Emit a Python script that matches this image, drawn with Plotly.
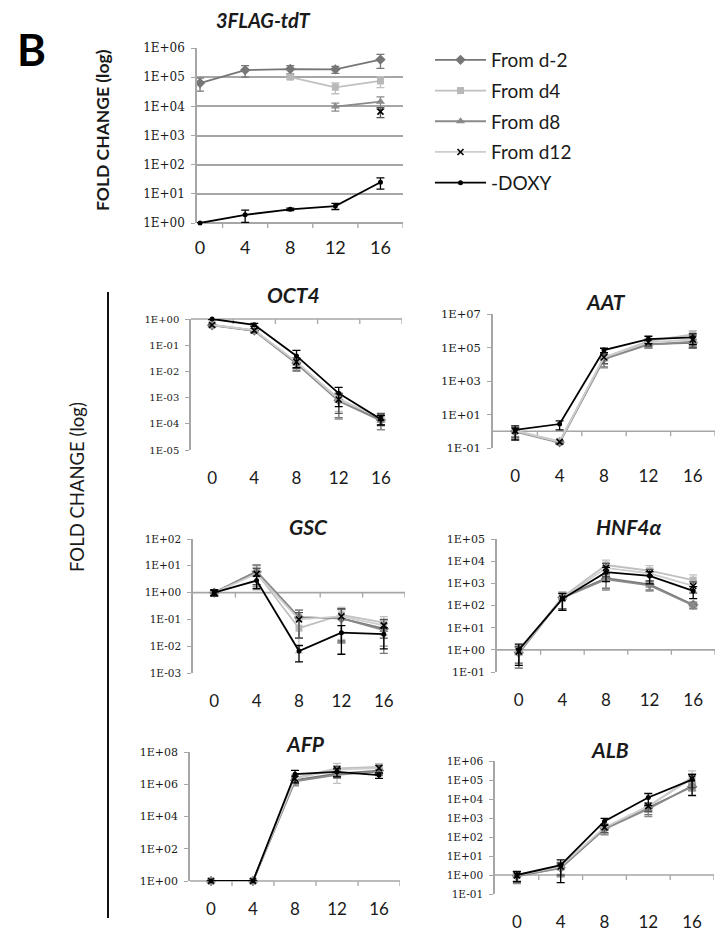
import plotly.graph_objects as go

W, H = 717, 935
DAYS = [0, 4, 8, 12, 16]
SERIES = ["From d-2", "From d4", "From d8", "From d12", "-DOXY"]

# ---------------- data ----------------
TDT_VAL = {
    "From d-2": [6.3e4, 1.75e5, 1.9e5, 1.85e5, 4.0e5],
    "From d4": [None, None, 1.0e5, 4.5e4, 7.4e4],
    "From d8": [None, None, None, 9.8e3, 1.45e4],
    "From d12": [None, None, None, None, 6.6e3],
    "-DOXY": [1.0, 1.9, 2.95, 3.8, 25],
}
TDT_SD = {
    "From d-2": [3.0e4, 7.5e4, 6.0e4, 5.0e4, 2.0e5],
    "From d4": [0, 0, 1.5e4, 1.8e4, 3.0e4],
    "From d8": [0, 0, 0, 3.0e3, 6.5e3],
    "From d12": [0, 0, 0, 0, 2.5e3],
    "-DOXY": [0.02, 0.85, 0.3, 0.9, 10.5],
}
OCT4_VAL = {
    "From d-2": [0.58, 0.36, 0.021, 8.0e-4, 1.4e-4],
    "From d4": [0.60, 0.38, 0.022, 9.0e-4, 1.6e-4],
    "From d8": [0.57, 0.35, 0.020, 7.5e-4, 1.3e-4],
    "From d12": [0.59, 0.37, 0.023, 8.5e-4, 1.7e-4],
    "-DOXY": [1.0, 0.60, 0.039, 1.45e-3, 1.5e-4],
}
OCT4_SD = {
    "From d-2": [0.05, 0.06, 0.010, 6.3e-4, 8e-5],
    "From d4": [0.05, 0.06, 0.010, 6.0e-4, 8e-5],
    "From d8": [0.05, 0.06, 0.010, 6.0e-4, 7e-5],
    "From d12": [0.05, 0.06, 0.010, 6.0e-4, 8e-5],
    "-DOXY": [0.05, 0.08, 0.025, 1.0e-3, 6e-5],
}
AAT_VAL = {
    "From d-2": [1.0, 0.22, 2.3e4, 1.6e5, 1.9e5],
    "From d4": [1.1, 0.25, 2.5e4, 2.4e5, 6.0e5],
    "From d8": [0.95, 0.21, 2.0e4, 1.5e5, 2.2e5],
    "From d12": [1.05, 0.23, 2.6e4, 2.0e5, 3.0e5],
    "-DOXY": [1.2, 2.7, 7.0e4, 3.2e5, 4.0e5],
}
AAT_SD = {
    "From d-2": [0.6, 0.04, 1.6e4, 6.0e4, 1.0e5],
    "From d4": [0.6, 0.04, 1.5e4, 1.0e5, 4.0e5],
    "From d8": [0.6, 0.04, 1.4e4, 6.0e4, 1.0e5],
    "From d12": [0.6, 0.04, 1.5e4, 8.0e4, 2.0e5],
    "-DOXY": [0.9, 1.5, 2.0e4, 1.5e5, 2.5e5],
}
GSC_VAL = {
    "From d-2": [1.0, 6.0, 0.12, 0.11, 0.045],
    "From d4": [1.0, 5.5, 0.047, 0.148, 0.076],
    "From d8": [1.0, 6.2, 0.12, 0.11, 0.040],
    "From d12": [1.0, 5.0, 0.10, 0.13, 0.060],
    "-DOXY": [1.0, 2.8, 6.6e-3, 0.032, 0.028],
}
GSC_SD = {
    "From d-2": [0.25, 4.7, 0.10, 0.13, 0.05],
    "From d4": [0.25, 3.5, 0.05, 0.13, 0.05],
    "From d8": [0.25, 4.5, 0.10, 0.12, 0.03],
    "From d12": [0.25, 3.0, 0.08, 0.12, 0.04],
    "-DOXY": [0.25, 1.35, 4.0e-3, 0.027, 0.02],
}
HNF4A_VAL = {
    "From d-2": [0.75, 230, 1.7e3, 900, 107],
    "From d4": [0.80, 240, 6.7e3, 3.7e3, 1.4e3],
    "From d8": [0.70, 220, 1.5e3, 800, 100],
    "From d12": [0.85, 210, 5.0e3, 2.8e3, 760],
    "-DOXY": [1.0, 200, 3.2e3, 2.15e3, 455],
}
HNF4A_SD = {
    "From d-2": [0.6, 170, 1.1e3, 400, 35],
    "From d4": [0.6, 170, 4.5e3, 2.6e3, 1.0e3],
    "From d8": [0.55, 150, 1.0e3, 350, 30],
    "From d12": [0.6, 140, 3.0e3, 1.5e3, 400],
    "-DOXY": [0.8, 140, 2.0e3, 1.2e3, 250],
}
AFP_VAL = {
    "From d-2": [1, 1, 1.8e6, 4.5e6, 7.0e6],
    "From d4": [1, 1, 2.5e6, 9.5e6, 1.2e7],
    "From d8": [1, 1, 1.5e6, 3.8e6, 6.0e6],
    "From d12": [1, 1, 2.2e6, 8.0e6, 1.0e7],
    "-DOXY": [1, 1, 4.2e6, 5.9e6, 3.7e6],
}
AFP_SD = {
    "From d-2": [0, 0, 9.0e5, 2.0e6, 3.0e6],
    "From d4": [0, 0, 1.2e6, 1.0e7, 6.0e6],
    "From d8": [0, 0, 7.0e5, 1.5e6, 2.5e6],
    "From d12": [0, 0, 1.0e6, 5.0e6, 5.0e6],
    "-DOXY": [0, 0, 3.0e6, 3.0e6, 1.4e6],
}
ALB_VAL = {
    "From d-2": [0.90, 2.4, 280, 3.4e3, 4.4e4],
    "From d4": [1.0, 2.6, 300, 4.0e3, 1.4e5],
    "From d8": [0.85, 2.3, 260, 3.0e3, 5.0e4],
    "From d12": [0.95, 2.8, 320, 4.2e3, 1.2e5],
    "-DOXY": [1.0, 3.3, 680, 1.2e4, 1.05e5],
}
ALB_SD = {
    "From d-2": [0.5, 1.5, 140, 1.9e3, 1.7e4],
    "From d4": [0.5, 1.5, 150, 2.0e3, 1.6e5],
    "From d8": [0.5, 1.5, 130, 1.8e3, 2.0e4],
    "From d12": [0.5, 1.8, 150, 2.0e3, 8.0e4],
    "-DOXY": [0.55, 2.9, 275, 7.5e3, 9.0e4],
}

STYLE = {
    "From d-2": dict(color="#767676", symbol="diamond", size=8, mcolor="#767676"),
    "From d4": dict(color="#c0c0c0", symbol="square", size=7, mcolor="#b8b8b8"),
    "From d8": dict(color="#8a8a8a", symbol="triangle-up", size=8, mcolor="#8a8a8a"),
    "From d12": dict(color="#cdcdcd", symbol="x-thin", size=6, mcolor="#000000"),
    "-DOXY": dict(color="#000000", symbol="circle", size=5, mcolor="#000000"),
}

# panel geometry in pixels: x-left, x-right, y-top, y-bottom, log range, tick step
PANELS = [
    dict(title="3FLAG-tdT", val=TDT_VAL, sd=TDT_SD, px=(197, 403), py=(48, 223), lr=(0, 6),
         step=1, xr=(-0.27, 18), tfs=12, grid=True, tc=(263, 20), xfs=18, legend=True),
    dict(title="OCT4", val=OCT4_VAL, sd=OCT4_SD, px=(191, 402), py=(319, 450), lr=(-5, 0),
         step=1, xr=(-2, 18), tfs=10, grid=False, tc=(293, 295), xfs=17, legend=False),
    dict(title="AAT", val=AAT_VAL, sd=AAT_SD, px=(493, 715), py=(314, 448), lr=(-1, 7),
         step=2, xr=(-2, 18), tfs=11.5, grid=False, tc=(606, 301), xfs=17, legend=False),
    dict(title="GSC", val=GSC_VAL, sd=GSC_SD, px=(193, 405), py=(539, 673), lr=(-3, 2),
         step=1, xr=(-2, 18), tfs=10.5, grid=False, tc=(308, 526), xfs=17, legend=False),
    dict(title="HNF4α", val=HNF4A_VAL, sd=HNF4A_SD, px=(497, 715), py=(539, 672), lr=(-1, 5),
         step=1, xr=(-2, 18), tfs=11, grid=False, tc=(628, 526), xfs=17, legend=False),
    dict(title="AFP", val=AFP_VAL, sd=AFP_SD, px=(190, 400), py=(752, 881), lr=(0, 8),
         step=2, xr=(-2, 18), tfs=11, grid=False, tc=(305, 743), xfs=17, legend=False),
    dict(title="ALB", val=ALB_VAL, sd=ALB_SD, px=(495, 714), py=(761, 894), lr=(-1, 6),
         step=1, xr=(-2, 18), tfs=10.5, grid=False, tc=(610, 749), xfs=17, legend=False),
]
TICK_POS = [2, 6, 10, 14, 18]

AXIS_GRAY = "#a6a6a6"
TEXT = "#1a1a1a"


def fmt_exp(e):
    return "1E%s%02d" % ("+" if e >= 0 else "-", abs(e))


fig = go.Figure()
layout = dict(
    width=W, height=H, margin=dict(l=0, r=0, t=0, b=0, pad=0, autoexpand=False),
    paper_bgcolor="white", plot_bgcolor="rgba(0,0,0,0)",
    showlegend=True,
    legend=dict(x=430 / W, y=1 - 41 / H, xanchor="left", yanchor="top",
                font=dict(family="Lato", size=19, color=TEXT),
                itemwidth=51, tracegroupgap=3, bgcolor="rgba(0,0,0,0)"),
)
annotations = []
shapes = []

for i, p in enumerate(PANELS):
    k = i + 1
    xs = "" if k == 1 else str(k)
    xd = [p["px"][0] / W, p["px"][1] / W]
    yd = [1 - p["py"][1] / H, 1 - p["py"][0] / H]
    lo, hi = p["lr"]
    tv = [10.0 ** e for e in range(lo, hi + 1, p["step"])]
    tt = [fmt_exp(e) for e in range(lo, hi + 1, p["step"])]
    layout["xaxis" + xs] = dict(
        domain=xd, range=list(p["xr"]), anchor="y" + xs, showline=False, showgrid=False,
        zeroline=False, ticks="", tickvals=DAYS, ticktext=[str(d) for d in DAYS],
        ticklabelstandoff=16 if k > 1 else 12, automargin=False,
        tickfont=dict(family="Lato", size=p["xfs"], color=TEXT), fixedrange=True)
    layout["yaxis" + xs] = dict(
        domain=yd, type="log", range=[lo, hi], anchor="x" + xs, showline=True,
        linecolor=AXIS_GRAY, linewidth=1.5, ticks="outside", ticklen=4, tickcolor=AXIS_GRAY,
        tickwidth=1.2, tickvals=tv, ticktext=tt, showgrid=p["grid"], gridcolor=AXIS_GRAY,
        gridwidth=2, zeroline=False, ticklabelstandoff=4, automargin=False,
        tickfont=dict(family="DejaVu Serif", size=p["tfs"], color=TEXT), fixedrange=True)
    # horizontal axis crossing at 1E+00, expressed in the y axis' domain fraction
    frac = (0 - lo) / (hi - lo)
    shapes.append(dict(type="line", xref="x" + xs + " domain", yref="y" + xs + " domain",
                       x0=0, x1=1, y0=frac, y1=frac,
                       line=dict(color=AXIS_GRAY, width=2 if k == 1 else 1.6), layer="below"))
    for t in TICK_POS:
        shapes.append(dict(type="line", xref="x" + xs, yref="y" + xs + " domain",
                           ysizemode="pixel", yanchor=frac, x0=t, x1=t, y0=0, y1=-5,
                           line=dict(color=AXIS_GRAY, width=1.3), layer="below"))

    for s in SERIES:
        st = STYLE[s]
        vals = p["val"][s]
        sds = p["sd"][s]
        plus = [sd if v is not None else None for v, sd in zip(vals, sds)]
        minus = [min(sd, 0.88 * v) if v is not None else None for v, sd in zip(vals, sds)]
        fig.add_trace(go.Scatter(
            x=DAYS, y=vals, name=s, mode="lines+markers", xaxis="x" + xs, yaxis="y" + xs,
            line=dict(color=st["color"], width=1.8),
            marker=dict(symbol=st["symbol"], size=st["size"], color=st["mcolor"],
                        line=dict(width=1.6 if s == "From d12" else 0, color=st["mcolor"])),
            error_y=dict(type="data", symmetric=False, array=plus, arrayminus=minus,
                         color=st["color"] if s != "From d12" else "#555555",
                         thickness=1.3, width=4),
            legendgroup=s, showlegend=p["legend"], connectgaps=False, cliponaxis=False,
        ))

    annotations.append(dict(
        text="<b><i>%s</i></b>" % p["title"], x=p["tc"][0] / W, y=1 - p["tc"][1] / H,
        xref="paper", yref="paper", showarrow=False, xanchor="center", yanchor="middle",
        font=dict(family="Lato", size=20 if k == 1 else 21, color=TEXT)))

annotations += [
    dict(text="<b>B</b>", x=31 / W, y=1 - 49 / H, xref="paper", yref="paper",
         showarrow=False, xanchor="center", yanchor="middle",
         font=dict(family="Lato", size=44, color="#000000")),
    dict(text="<b>FOLD CHANGE (log)</b>", x=102 / W, y=1 - 130 / H, xref="paper",
         yref="paper", showarrow=False, textangle=-90, xanchor="center", yanchor="middle",
         font=dict(family="Lato", size=17.5, color=TEXT)),
    dict(text="FOLD CHANGE (log)", x=77 / W, y=1 - 487 / H, xref="paper", yref="paper",
         showarrow=False, textangle=-90, xanchor="center", yanchor="middle",
         font=dict(family="Lato", size=18.5, color=TEXT)),
]
shapes.append(dict(type="line", xref="paper", yref="paper", x0=108 / W, x1=108 / W,
                   y0=1 - 292 / H, y1=1 - 918 / H, line=dict(color="#111111", width=2)))
layout["annotations"] = annotations
layout["shapes"] = shapes

fig.update_layout(**layout)
fig.write_html("out.html", config={"displayModeBar": False},
               post_script="document.body.style.margin='0px';")
